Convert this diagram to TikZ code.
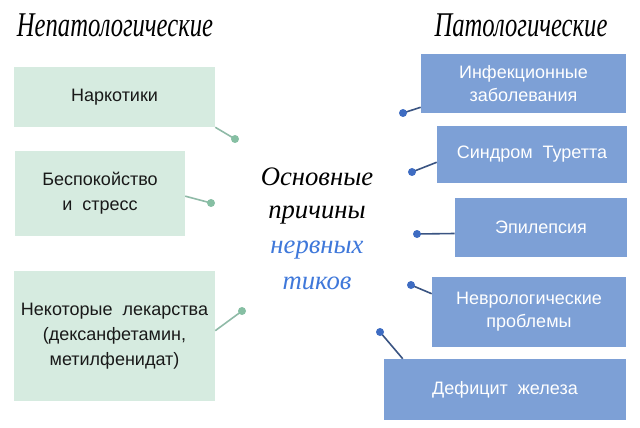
\documentclass[tikz,border=0pt]{standalone}
\usepackage{fontspec}
\usepackage{graphicx}
\setmainfont{Liberation Sans}
\newfontfamily\handfont{Liberation Serif}
\usetikzlibrary{positioning}

\definecolor{mintfill}{HTML}{D6EBE0}
\definecolor{mintdot}{HTML}{86BFA3}
\definecolor{mintline}{HTML}{8FBAA7}
\definecolor{bluefill}{HTML}{7DA0D6}
\definecolor{bluedot}{HTML}{3E6CC2}
\definecolor{blueline}{HTML}{3A5482}
\definecolor{tictext}{HTML}{3F78DA}

\begin{document}
\begin{tikzpicture}[x=0.75pt, y=-0.75pt,
	greenbox/.style={fill=mintfill, text=black!90, align=center, inner sep=0pt,
		font=\fontsize{13.5}{18.75}\selectfont},
	bluebox/.style={fill=bluefill, text=white, align=center, inner sep=0pt,
		font=\fontsize{13.5}{17.25}\selectfont},
	greenlink/.style={mintline, line width=1.2pt},
	bluelink/.style={blueline, line width=1.2pt},
	heading/.style={font=\handfont\itshape\fontsize{26}{26}\selectfont},
	centre line/.style={font=\handfont\itshape\fontsize{20}{20}\selectfont}]
	\useasboundingbox (0,0) rectangle (640,428);

	% headings
	\node[heading] (nonpath) at (115,25) {\scalebox{0.71}[1]{Непатологические}};
	\node[heading] (path) at (521,25) {\scalebox{0.71}[1]{Патологические}};

	% left column
	\node[greenbox, minimum width=150.75pt, minimum height=45pt] (drugsnarc) at (114.5,97) {Наркотики};
	\node[greenbox, minimum width=127.5pt, minimum height=63.75pt] (stress) at (100,193.5) {Беспокойство\\и~ стресс};
	\node[greenbox, minimum width=150.75pt, minimum height=97.5pt] (meds) at (114.5,336) {Некоторые~ лекарства\\(дексанфетамин,\\метилфенидат)};

	% right column
	\node[bluebox, minimum width=153.75pt, minimum height=44.25pt] (infect) at (523.5,83.5) {Инфекционные\\заболевания};
	\node[bluebox, minimum width=142.5pt, minimum height=42.75pt] (tourette) at (532,154.5) {Синдром~ Туретта};
	\node[bluebox, minimum width=129pt, minimum height=44.25pt] (epilepsy) at (541,227.5) {Эпилепсия};
	\node[bluebox, minimum width=145.5pt, minimum height=52.5pt] (neuro) at (529,312) {Неврологические\\проблемы};
	\node[bluebox, minimum width=181.5pt, minimum height=45.75pt] (iron) at (505,389.5) {Дефицит~ железа};

	% centre
	\node[centre line] (reasons1) at (317,177) {Основные};
	\node[centre line] (reasons2) at (317,215) {причины};
	\node[centre line, text=tictext] (tics1) at (317,250) {нервных};
	\node[centre line, text=tictext] (tics2) at (317,283) {тиков};

	% dots
	\coordinate (gdot1) at (235,139);
	\coordinate (gdot2) at (211,203);
	\coordinate (gdot3) at (242,311);
	\coordinate (bdot1) at (403,113);
	\coordinate (bdot2) at (412,172);
	\coordinate (bdot3) at (417,234);
	\coordinate (bdot4) at (411,285);
	\coordinate (bdot5) at (380,332);

	\draw[greenlink] (drugsnarc.south east) -- (gdot1);
	\draw[greenlink] ([yshift=-2pt]stress.east) -- (gdot2);
	\draw[greenlink] ([yshift=4pt]meds.east) -- (gdot3);
	\draw[bluelink] ([yshift=4.5pt]infect.south west) -- (bdot1);
	\draw[bluelink] ([yshift=15.75pt]tourette.south west) -- (bdot2);
	\draw[bluelink] ([yshift=-4.5pt]epilepsy.west) -- (bdot3);
	\draw[bluelink] ([yshift=-12.75pt]neuro.north west) -- (bdot4);
	\draw[bluelink] ([xshift=14.25pt]iron.north west) -- (bdot5);

	\foreach \d in {gdot1,gdot2,gdot3}
		\fill[mintdot] (\d) circle (3pt);
	\foreach \d in {bdot1,bdot2,bdot3,bdot4,bdot5}
		\fill[bluedot] (\d) circle (3pt);
\end{tikzpicture}
\end{document}
